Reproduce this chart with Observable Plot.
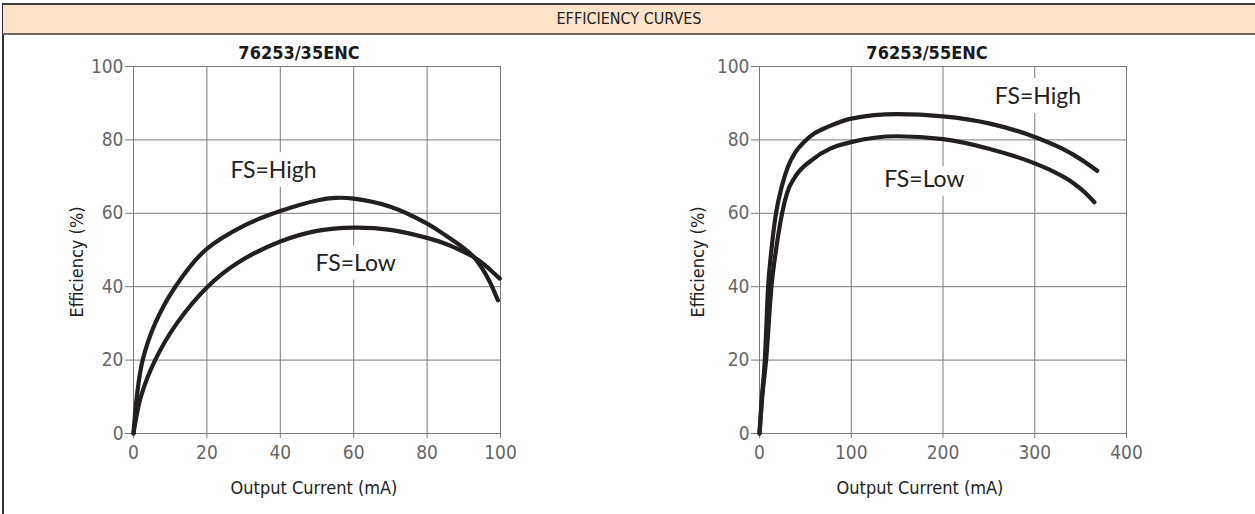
<!DOCTYPE html>
<html>
<head>
<meta charset="utf-8">
<script src="https://cdn.jsdelivr.net/npm/d3@7"></script>
<script src="https://cdn.jsdelivr.net/npm/@observablehq/plot@0.6"></script>
<style>
  html, body { margin: 0; padding: 0; background: #fff; }
  body { width: 1255px; height: 514px; position: relative; overflow: hidden; font-family: "DejaVu Sans Condensed", "DejaVu Sans", sans-serif; font-stretch: condensed; }
  #header { position: absolute; left: 3px; top: 3px; width: 1252px; height: 28px; background: #fde3c8;
    border-top: 2px solid #3d3d3d; border-bottom: 2px solid #6e6760; text-align: center; line-height: 28px;
    font-size: 16px; color: #222; }
  #vline { position: absolute; left: 2px; top: 3px; bottom: 0; width: 2px; background: #333; }
  .chart { position: absolute; top: 40px; }
  #c1 { left: 0px; }
  #c2 { left: 626px; }
  .ylab { position: absolute; width: 200px; height: 24px; line-height: 24px; text-align: center;
    font-size: 18px; color: #222; transform: rotate(-90deg); transform-origin: 50% 50%; top: 250px; }
</style>
</head>
<body>
<div id="vline"></div>
<div id="header"></div>
<div id="c1" class="chart"></div>
<div id="c2" class="chart"></div>
<div id="yl1" class="ylab" style="left:-23px"></div>
<div id="yl2" class="ylab" style="left:598px"></div>
<script>
// ---- data ----
const yTicks = [0, 20, 40, 60, 80, 100];
const xTicksLeft = [0, 20, 40, 60, 80, 100];
const xTicksRight = [0, 100, 200, 300, 400];

const headerText = "EFFICIENCY CURVES";
const titleLeft = "76253/35ENC";
const titleRight = "76253/55ENC";
const xLabel = "Output Current (mA)";
const yLabel = "Efficiency (%)";

// 76253/35ENC  [current mA, efficiency %]
const leftHigh = [[0,0],[0.9,10],[2.5,20],[5.9,30],[11.4,40],[19.6,50],[30,56.6],[40,60.6],[50,63.5],[55,64.2],[60,64],[70,61.8],[80,57.2],[85,54],[90,50.5],[92.7,48.1],[95,45],[97,41.5],[99.3,36.3]];
const leftLow  = [[0,0],[2,10],[5.9,20],[11.8,30],[20.2,40],[28.2,46.4],[40,52.3],[50,55.2],[60,56.1],[70,55.5],[80,53.3],[85,51.7],[90,49.5],[92.7,48.1],[95,46.5],[99.8,42.2]];
const leftLabels = [{x: 26.4, y: 71.6, text: "FS=High"}, {x: 49.6, y: 46.3, text: "FS=Low"}];

// 76253/55ENC  [current mA, efficiency %]
const rightHigh = [[0,0],[2,8],[5.8,20],[9.4,40],[13,50],[18,60],[24,67],[31,72.7],[39,76.6],[48,79.3],[60,81.8],[75,83.6],[100,85.8],[150,87],[200,86.4],[250,84.5],[300,80.8],[330,77.6],[349,74.9],[368,71.6]];
const rightLow  = [[0,0],[3,10],[7.2,20],[13,40],[18,50],[24.6,60],[30,65.5],[39,70],[57,74.5],[77,77.6],[100,79.4],[150,81],[200,80.2],[250,77.6],[300,73.6],[320,71.4],[340,68.6],[355,65.6],[365,63]];
const rightLabels = [{x: 256.5, y: 91.8, text: "FS=High"}, {x: 135.9, y: 69.2, text: "FS=Low"}];

function toRows(high, low) {
  return [
    ...high.map(([x, y]) => ({x, y, s: "High"})),
    ...low.map(([x, y]) => ({x, y, s: "Low"}))
  ];
}

const FONT = "'DejaVu Sans Condensed', 'DejaVu Sans', sans-serif";

function chart({rows, xDomain, xTicks, title, titleDx, xLabelDx, labels, curve}) {
  return Plot.plot({
    width: 620, height: 474,
    marginLeft: 133, marginRight: 120, marginTop: 26, marginBottom: 81,
    style: {fontFamily: FONT, fontSize: "16px", color: "#666", background: "transparent", overflow: "visible", fontStretch: "condensed"},
    x: {domain: xDomain, ticks: xTicks},
    y: {domain: [0, 100], ticks: yTicks},
    marks: [
      Plot.gridX(xTicks, {stroke: "#7a7a7a", strokeOpacity: 1, strokeWidth: 1}),
      Plot.gridY(yTicks, {stroke: "#7a7a7a", strokeOpacity: 1, strokeWidth: 1}),
      Plot.frame({stroke: "#7a7a7a", strokeWidth: 1}),
      Plot.axisX(xTicks, {label: null, tickSize: 5, tickPadding: 7, stroke: "#7a7a7a", fill: "#666", fontSize: 19, fontWeight: 300}),
      Plot.axisY(yTicks, {label: null, tickSize: 8, tickPadding: 2, stroke: "#7a7a7a", fill: "#666", fontSize: 19, fontWeight: 300}),
      Plot.text(labels, {x: "x", y: "y", text: "text", textAnchor: "start", fontFamily: "Lato, 'Noto Sans', sans-serif",
        fontSize: 23, fill: "#222", stroke: "white", strokeWidth: 18, strokeLinejoin: "round"}),
      Plot.line(rows, {x: "x", y: "y", z: "s", curve, stroke: "#231f20", strokeWidth: 4.2}),
      Plot.text([title], {frameAnchor: "top", dy: -20, dx: titleDx, fontWeight: "bold", fontSize: 18, fill: "#1a1a1a"}),
      Plot.text([xLabel], {frameAnchor: "bottom", dy: 60, dx: xLabelDx, fontSize: 18, fill: "#222"})
    ]
  });
}

document.getElementById("header").textContent = headerText;
document.getElementById("yl1").textContent = yLabel;
document.getElementById("yl2").textContent = yLabel;

document.getElementById("c1").append(chart({
  rows: toRows(leftHigh, leftLow), xDomain: [0, 100], xTicks: xTicksLeft,
  title: titleLeft, titleDx: -18, xLabelDx: -3, labels: leftLabels, curve: "catmull-rom"
}));
document.getElementById("c2").append(chart({
  rows: toRows(rightHigh, rightLow), xDomain: [0, 400], xTicks: xTicksRight,
  title: titleRight, titleDx: -16, xLabelDx: -23, labels: rightLabels, curve: "monotone-x"
}));
</script>
</body>
</html>
